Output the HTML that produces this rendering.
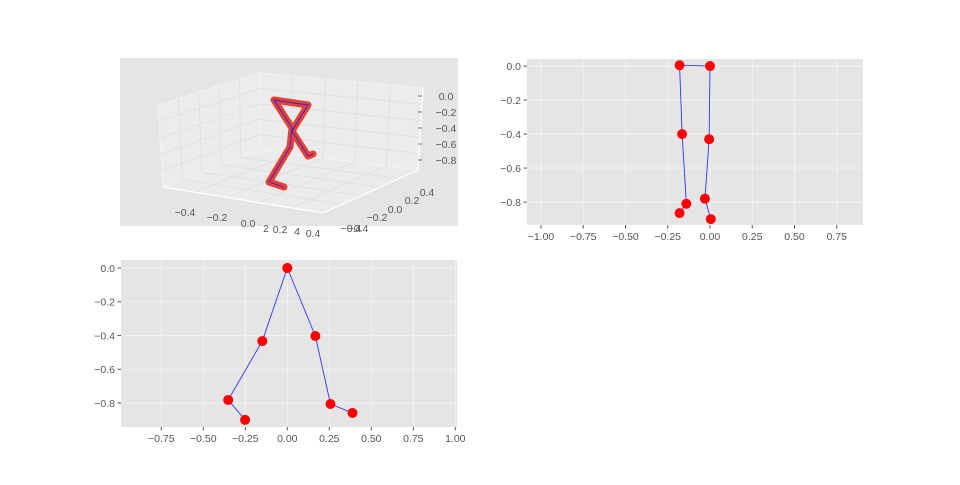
<!DOCTYPE html>
<html><head><meta charset="utf-8"><style>
html,body{margin:0;padding:0;background:#fff;}
svg text{font-family:"Liberation Sans",sans-serif;font-size:10.5px;fill:#555;}
</style></head><body>
<svg id="fig" width="960" height="480" viewBox="0 0 960 480">
<rect width="960" height="480" fill="#fff"/>
<g id="p3d"></g>
<g id="pside"></g>
<g id="pfront"></g>
</svg>
<script>
const NS="http://www.w3.org/2000/svg";
// side view data (top-right)
const sideX=[-0.18,-0.165,-0.14,-0.18,0.0,-0.005,-0.03,0.005];
const sideY=[0.005,-0.40,-0.81,-0.865,0.0,-0.43,-0.78,-0.90];
// front view data (bottom-left)
const frontX=[0.0,-0.149,-0.352,-0.251,0.0,0.167,0.257,0.388];
const frontY=[0.0,-0.433,-0.782,-0.90,0.0,-0.403,-0.806,-0.859];
// bones: pairs of joint indices
const bones=[[0,1],[1,2],[2,3],[0,4],[4,5],[5,6],[6,7]];
const sideXTicks=[-1.0,-0.75,-0.5,-0.25,0.0,0.25,0.5,0.75];
const frontXTicks=[-0.75,-0.5,-0.25,0.0,0.25,0.5,0.75,1.0];
const yTicks=[0.0,-0.2,-0.4,-0.6,-0.8];
// 3D view: joint screen-projection data (pre-projected skeleton path)
const path3dX=[313,308,292,308,274,292,290,269,284];
const path3dY=[154,156,131,105,100,128,147,182,187];

function el(tag,attrs,parent,text){const e=document.createElementNS(NS,tag);for(const k in attrs)e.setAttribute(k,attrs[k]);if(text!==undefined)e.textContent=text;parent.appendChild(e);return e;}

function plot2d(g,box,xmin,xmax,ymin,ymax,xt,xs,ys){
  const sx=v=>box.x+(v-xmin)/(xmax-xmin)*box.w;
  const sy=v=>box.y+(ymax-v)/(ymax-ymin)*box.h;
  const bg=el('rect',{x:box.x,y:box.y,width:box.w,height:box.h,fill:'#e5e5e5'},g);
  
  
  xt.forEach(t=>{const X=sx(t);
    const gl=el('line',{x1:X,x2:X,y1:box.y,y2:box.y+box.h,stroke:'#f4f4f4',"stroke-width":0.8},g);
    
    el('line',{x1:X,x2:X,y1:box.y+box.h,y2:box.y+box.h+3.5,stroke:'#555'},g);
    const s=(t<0?'\u2212':'')+Math.abs(t).toFixed(2);
    const tx=el('text',{x:X,y:box.y+box.h+15,'text-anchor':'middle'},g,s);
    
  });
  yTicks.forEach(t=>{const Y=sy(t);
    const gl=el('line',{x1:box.x,x2:box.x+box.w,y1:Y,y2:Y,stroke:'#f4f4f4',"stroke-width":0.8},g);
    
    el('line',{x1:box.x-3.5,x2:box.x,y1:Y,y2:Y,stroke:'#555'},g);
    const s=(t<0?'\u2212':'')+Math.abs(t).toFixed(1);
    const tx=el('text',{x:box.x-6,y:Y+3.8,'text-anchor':'end'},g,s);
    
  });
  bones.forEach(b=>{
    const l=el('line',{x1:sx(xs[b[0]]),y1:sy(ys[b[0]]),x2:sx(xs[b[1]]),y2:sy(ys[b[1]]),stroke:'#3333ff','stroke-width':0.9},g);
    
  });
  xs.forEach((v,i)=>{
    const c=el('circle',{cx:sx(v),cy:sy(ys[i]),r:5,fill:'#ff0000'},g);
    
  });
}
plot2d(document.getElementById('pside'),{x:527,y:59,w:336,h:166},-1.0828,0.9053,-0.9348,0.0415,sideXTicks,sideX,sideY);
plot2d(document.getElementById('pfront'),{x:121,y:260,w:336,h:167},-0.9899,1.0101,-0.9422,0.0474,frontXTicks,frontX,frontY);

// 3D plot
(function(){
  const g=document.getElementById('p3d');
  el('rect',{x:120,y:58,width:338,height:168,fill:'#e5e5e5'},g);
  const lw=el('polygon',{points:'158,105 260,73 260,150 163,187',fill:'#ececec',stroke:'#f2f2f2'},g);
  
  const bw=el('polygon',{points:'260,73 423,88 418,170 260,150',fill:'#ececec',stroke:'#f2f2f2'},g);
  
  const fl=el('polygon',{points:'163,187 260,150 418,170 323,213',fill:'#ebebeb',stroke:'#f2f2f2'},g);
  
  const L=(a,b,c,d,col,w)=>el('line',{x1:a,y1:b,x2:c,y2:d,stroke:col||'#dedede','stroke-width':w||0.8},g);
  const lerp=(p,q,f)=>[p[0]+(q[0]-p[0])*f,p[1]+(q[1]-p[1])*f];
  const A=[163,187],B=[323,213],C=[418,170],D=[260,150],E=[158,105],F=[260,73],G=[423,88];
  for(let i=1;i<5;i++){const f=i/5;
    let p=lerp(A,B,f),q=lerp(D,C,f);L(p[0],p[1],q[0],q[1]);
    p=lerp(A,D,f);q=lerp(B,C,f);L(p[0],p[1],q[0],q[1]);
    p=lerp(A,D,f);q=lerp(E,F,f);L(p[0],p[1],q[0],q[1]);
    p=lerp(E,A,f);q=lerp(F,D,f);L(p[0],p[1],q[0],q[1]);
    p=lerp(D,C,f);q=lerp(F,G,f);L(p[0],p[1],q[0],q[1]);
    p=lerp(F,D,f);q=lerp(G,C,f);L(p[0],p[1],q[0],q[1]);
  }
  L(163,187,323,213,'#fff',1.2);L(323,213,418,170,'#fff',1.2);L(423,88,418,170,'#fff',1.2);
  const xl=[['\u22120.4',185,216],['\u22120.2',217,221],['0.0',248,227],['0.2',280,233],['0.4',313,237]];
  xl.forEach(t=>{const e=el('text',{x:t[1],y:t[2],'text-anchor':'middle'},g,t[0]);});
  el('text',{x:266,y:232,'text-anchor':'middle'},g,'2');el('text',{x:297,y:235,'text-anchor':'middle'},g,'4');
  const yl=[['0.4',427,196],['0.2',412,204],['0.0',395,213],['\u22120.2',377,221],['\u22120.4',358,232]];
  yl.forEach(t=>{const e=el('text',{x:t[1],y:t[2],'text-anchor':'middle'},g,t[0]);});
  el('text',{x:351,y:232,'text-anchor':'middle'},g,'\u22120.4');
  const zl=[['0.0',100],['\u22120.2',116],['\u22120.4',132],['\u22120.6',148],['\u22120.8',164]];
  zl.forEach(t=>{const e=el('text',{x:446,y:t[1],'text-anchor':'middle'},g,t[0]);});
  [100,116,132,148,164].forEach(y=>L(418,y-4,422,y-4,'#555',0.8));
  let pts=path3dX.map((v,i)=>v+','+path3dY[i]).join(' ');
  const thick=el('polyline',{points:pts,fill:'none',stroke:'#e8412f','stroke-width':7,'stroke-linejoin':'round','stroke-linecap':'round'},g);
  
  const thin=el('polyline',{points:pts,fill:'none',stroke:'#2222ff','stroke-width':0.9},g);
  
})();
</script>
</body></html>
